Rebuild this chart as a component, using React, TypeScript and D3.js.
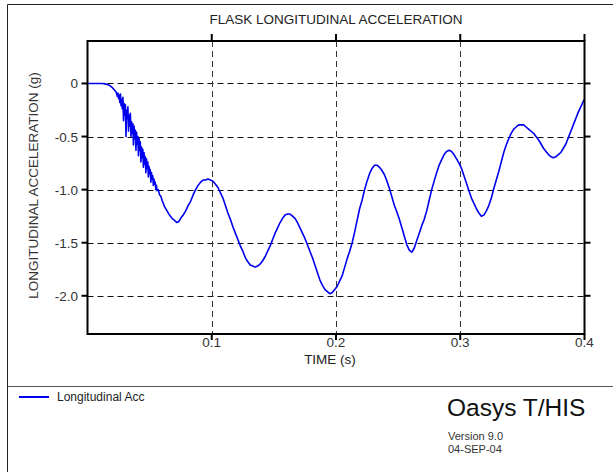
import React from "react";
import * as d3 from "d3";

const title = "FLASK LONGITUDINAL ACCELERATION";
const xLabel = "TIME (s)";
const yLabel = "LONGITUDINAL ACCELERATION (g)";
const seriesName = "Longitudinal Acc";
const xTicks = [0.1, 0.2, 0.3, 0.4];
const xTickLabels = ["0.1", "0.2", "0.3", "0.4"];
const yTicks = [0, -0.5, -1.0, -1.5, -2.0];
const yTickLabels = ["0", "-0.5", "-1.0", "-1.5", "-2.0"];
const xDomain = [0, 0.4];
const yDomain = [-2.36, 0.4];

// [time (s), acceleration (g)]
const samples: [number, number][] = [
  [0, 0], [0.004, 0], [0.008, 0], [0.012, 0], [0.014, -0.004], [0.016, -0.01], [0.018, -0.02], [0.02, -0.04],
  [0.0215, -0.06], [0.023, -0.08],
  [0.024, -0.12], [0.0245, -0.09], [0.025, -0.14], [0.0255, -0.11], [0.026, -0.18], [0.0265, -0.1], [0.027, -0.21],
  [0.0275, -0.15], [0.028, -0.24], [0.0285, -0.13], [0.029, -0.35], [0.0295, -0.19], [0.03, -0.3], [0.0305, -0.2],
  [0.031, -0.5], [0.0315, -0.25], [0.032, -0.33], [0.0325, -0.22], [0.033, -0.45], [0.0335, -0.3], [0.034, -0.4],
  [0.0345, -0.28], [0.035, -0.5], [0.0355, -0.36], [0.036, -0.47], [0.0365, -0.38], [0.037, -0.58], [0.0375, -0.4],
  [0.038, -0.52], [0.0385, -0.44], [0.039, -0.63], [0.0395, -0.46], [0.04, -0.57], [0.0405, -0.5], [0.041, -0.68],
  [0.0415, -0.52], [0.042, -0.63], [0.0425, -0.55], [0.043, -0.74], [0.0435, -0.6], [0.044, -0.7], [0.0445, -0.62],
  [0.045, -0.79], [0.0455, -0.65], [0.046, -0.76], [0.0465, -0.69], [0.047, -0.84], [0.0475, -0.71], [0.048, -0.8],
  [0.0485, -0.74], [0.049, -0.88], [0.0495, -0.78], [0.05, -0.85], [0.0505, -0.81], [0.051, -0.93], [0.0515, -0.84],
  [0.052, -0.9], [0.0525, -0.87], [0.053, -0.96], [0.0535, -0.9], [0.054, -0.95], [0.0545, -0.93], [0.055, -1.0],
  [0.0555, -0.96], [0.056, -1.01], [0.057, -1.0], [0.058, -1.05], [0.059, -1.06], [0.06, -1.1],
  [0.062, -1.16], [0.064, -1.2], [0.066, -1.24], [0.068, -1.27], [0.07, -1.29], [0.072, -1.31], [0.0735, -1.3],
  [0.075, -1.27], [0.077, -1.24], [0.079, -1.2], [0.081, -1.15], [0.083, -1.11], [0.085, -1.05], [0.087, -1.0],
  [0.089, -0.96], [0.091, -0.93], [0.093, -0.91], [0.095, -0.91], [0.097, -0.9], [0.099, -0.91], [0.101, -0.92],
  [0.103, -0.95], [0.105, -0.98], [0.107, -1.03], [0.109, -1.08], [0.111, -1.15], [0.113, -1.22], [0.115, -1.28],
  [0.117, -1.35], [0.119, -1.41], [0.121, -1.47], [0.123, -1.53], [0.125, -1.58], [0.127, -1.64], [0.129, -1.68],
  [0.131, -1.71], [0.133, -1.72], [0.135, -1.73], [0.137, -1.72], [0.139, -1.7], [0.141, -1.67], [0.143, -1.63],
  [0.145, -1.58], [0.147, -1.53], [0.149, -1.47], [0.151, -1.41], [0.153, -1.36], [0.155, -1.31], [0.157, -1.27],
  [0.159, -1.24], [0.161, -1.23], [0.163, -1.23], [0.165, -1.25], [0.167, -1.27], [0.169, -1.31], [0.171, -1.36],
  [0.173, -1.41], [0.175, -1.46], [0.177, -1.52], [0.179, -1.58], [0.181, -1.64], [0.183, -1.71], [0.185, -1.78],
  [0.187, -1.85], [0.189, -1.9], [0.191, -1.94], [0.193, -1.96], [0.195, -1.98], [0.197, -1.97], [0.199, -1.94],
  [0.201, -1.91], [0.203, -1.86], [0.205, -1.81], [0.207, -1.73], [0.209, -1.65], [0.211, -1.58], [0.213, -1.5],
  [0.215, -1.4], [0.217, -1.29], [0.219, -1.18], [0.221, -1.1], [0.223, -1.0], [0.225, -0.92], [0.227, -0.85],
  [0.229, -0.8], [0.231, -0.77], [0.233, -0.77], [0.235, -0.79], [0.237, -0.82], [0.239, -0.86], [0.241, -0.92],
  [0.243, -0.99], [0.245, -1.07], [0.247, -1.15], [0.249, -1.21], [0.251, -1.28], [0.253, -1.36], [0.255, -1.44],
  [0.257, -1.52], [0.259, -1.57], [0.261, -1.59], [0.263, -1.55], [0.265, -1.48], [0.267, -1.41], [0.269, -1.34],
  [0.271, -1.28], [0.273, -1.2], [0.275, -1.1], [0.277, -1.0], [0.279, -0.92], [0.281, -0.84], [0.283, -0.77],
  [0.285, -0.72], [0.287, -0.67], [0.289, -0.64], [0.291, -0.63], [0.293, -0.64], [0.295, -0.67], [0.297, -0.71],
  [0.299, -0.75], [0.301, -0.8], [0.303, -0.87], [0.305, -0.94], [0.307, -1.01], [0.309, -1.08], [0.311, -1.13],
  [0.313, -1.18], [0.315, -1.22], [0.317, -1.25], [0.319, -1.24], [0.321, -1.2], [0.323, -1.15], [0.325, -1.08],
  [0.327, -0.99], [0.329, -0.91], [0.331, -0.83], [0.333, -0.74], [0.335, -0.65], [0.337, -0.58], [0.339, -0.52],
  [0.341, -0.47], [0.343, -0.43], [0.345, -0.41], [0.347, -0.39], [0.349, -0.39], [0.351, -0.39], [0.353, -0.41],
  [0.355, -0.43], [0.357, -0.45], [0.359, -0.47], [0.361, -0.5], [0.363, -0.53], [0.365, -0.57], [0.367, -0.61],
  [0.369, -0.64], [0.371, -0.67], [0.373, -0.69], [0.375, -0.7], [0.377, -0.69], [0.379, -0.67], [0.381, -0.65],
  [0.383, -0.61], [0.385, -0.57], [0.387, -0.51], [0.389, -0.45], [0.391, -0.39], [0.393, -0.33], [0.395, -0.27],
  [0.397, -0.22], [0.399, -0.17], [0.4, -0.15],
];

const W = 613;
const H = 472;
const plot = { left: 87.5, right: 584.5, top: 41, bottom: 334 };
const FONT = "'Liberation Sans', Arial, sans-serif";

export default function App() {
  const x = d3.scaleLinear().domain(xDomain).range([plot.left, plot.right]);
  const y = d3.scaleLinear().domain(yDomain).range([plot.bottom, plot.top]);
  const line = d3
    .line<[number, number]>()
    .x((d) => x(d[0]))
    .y((d) => y(d[1]));

  return (
    <svg
      width={W}
      height={H}
      style={{ position: "absolute", left: 0, top: 0, background: "#fff" }}
      fontFamily={FONT}
    >
      <rect x={0} y={0} width={W} height={H} fill="#fff" />
      {/* outer frame */}
      <line x1={7.5} y1={4.5} x2={W} y2={4.5} stroke="#222" strokeWidth={1} />
      <line x1={7.5} y1={4.5} x2={7.5} y2={H} stroke="#222" strokeWidth={1} />
      <line x1={7.5} y1={386.5} x2={W} y2={386.5} stroke="#555" strokeWidth={1} />

      <text x={336} y={24} textAnchor="middle" fontSize={13.5} fill="#222">
        {title}
      </text>

      {/* gridlines */}
      {yTicks.map((v) => (
        <line
          key={"gy" + v}
          x1={plot.left}
          x2={plot.right}
          y1={Math.round(y(v)) + 0.5}
          y2={Math.round(y(v)) + 0.5}
          stroke="#111"
          strokeWidth={1}
          strokeDasharray="6,4"
        />
      ))}
      {xTicks
        .filter((v) => v < xDomain[1])
        .map((v) => (
          <line
            key={"gx" + v}
            x1={Math.round(x(v)) + 0.5}
            x2={Math.round(x(v)) + 0.5}
            y1={plot.top}
            y2={plot.bottom}
            stroke="#333"
            strokeWidth={1}
            strokeDasharray="6,4"
          />
        ))}

      {/* data */}
      <path d={line(samples) || ""} fill="none" stroke="#0000ee" strokeWidth={1.6} strokeLinejoin="round" />

      {/* plot box */}
      <rect
        x={plot.left}
        y={plot.top}
        width={plot.right - plot.left}
        height={plot.bottom - plot.top}
        fill="none"
        stroke="#000"
        strokeWidth={2}
      />

      {/* ticks */}
      {yTicks.map((v) => (
        <g key={"ty" + v}>
          <line x1={plot.left - 6} x2={plot.left} y1={y(v)} y2={y(v)} stroke="#000" strokeWidth={2} />
          <line x1={plot.right} x2={plot.right + 6} y1={y(v)} y2={y(v)} stroke="#000" strokeWidth={2} />
        </g>
      ))}
      {xTicks.map((v) => (
        <g key={"tx" + v}>
          <line x1={x(v)} x2={x(v)} y1={plot.top - 7} y2={plot.top} stroke="#000" strokeWidth={2} />
          <line x1={x(v)} x2={x(v)} y1={plot.bottom} y2={plot.bottom + 6} stroke="#000" strokeWidth={2} />
        </g>
      ))}

      {/* tick labels */}
      {yTicks.map((v, i) => (
        <text key={"ly" + v} x={78} y={y(v) + 5} textAnchor="end" fontSize={13.5} fill="#333">
          {yTickLabels[i]}
        </text>
      ))}
      {xTicks.map((v, i) => (
        <text key={"lx" + v} x={x(v)} y={347} textAnchor="middle" fontSize={13.5} fill="#333">
          {xTickLabels[i]}
        </text>
      ))}

      <text x={330} y={364} textAnchor="middle" fontSize={13.5} fill="#222">
        {xLabel}
      </text>
      <text
        transform={`translate(37.5, ${(plot.top + plot.bottom) / 2 - 2}) rotate(-90)`}
        textAnchor="middle"
        fontSize={13.5}
        fill="#333"
      >
        {yLabel}
      </text>

      {/* legend */}
      <line x1={19} x2={49} y1={397} y2={397} stroke="#0000ee" strokeWidth={2} />
      <text x={57} y={401} fontSize={12} fill="#222">
        {seriesName}
      </text>

      <text x={447} y={416} fontSize={24.5} fill="#111">
        Oasys T/HIS
      </text>
      <text x={448} y={440} fontSize={11} fill="#333">
        Version 9.0
      </text>
      <text x={448} y={453} fontSize={11} fill="#333">
        04-SEP-04
      </text>
    </svg>
  );
}
